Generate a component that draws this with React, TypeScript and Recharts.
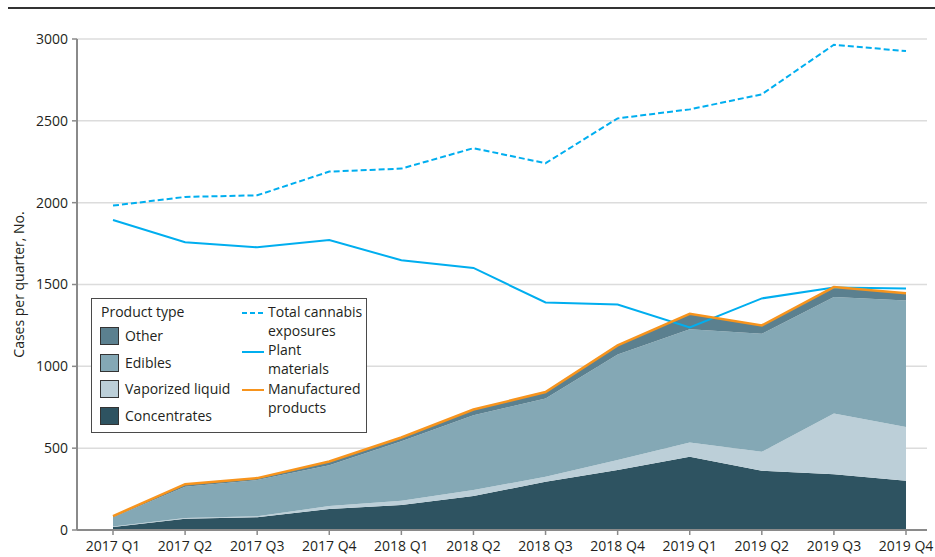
import * as React from 'react';
import {
  ComposedChart,
  Area,
  Line,
  XAxis,
  YAxis,
  CartesianGrid,
  Legend,
} from 'recharts';

const quarters = [
  '2017 Q1', '2017 Q2', '2017 Q3', '2017 Q4',
  '2018 Q1', '2018 Q2', '2018 Q3', '2018 Q4',
  '2019 Q1', '2019 Q2', '2019 Q3', '2019 Q4',
];

// stacked product types (bottom to top)
const concentrates = [18, 69, 78, 128, 152, 207, 295, 366, 447, 362, 341, 301];
const vaporizedLiquid = [4, 5, 6, 18, 27, 37, 30, 61, 88, 116, 371, 329];
const edibles = [56, 190, 221, 250, 364, 457, 478, 646, 691, 721, 711, 772];
const other = [7, 16, 12, 23, 22, 35, 40, 55, 95, 51, 61, 45];

// lines
const totalExposures = [1982, 2035, 2045, 2190, 2208, 2333, 2241, 2515, 2570, 2662, 2965, 2926];
const plantMaterials = [1894, 1758, 1727, 1772, 1648, 1601, 1390, 1378, 1238, 1415, 1482, 1476];
const manufactured = [85, 280, 317, 419, 565, 736, 843, 1128, 1321, 1250, 1484, 1447];

const yTicks = [0, 500, 1000, 1500, 2000, 2500, 3000];

const data = quarters.map((q, i) => ({
  quarter: q,
  concentrates: concentrates[i],
  vaporized: vaporizedLiquid[i],
  edibles: edibles[i],
  other: other[i],
  total: totalExposures[i],
  plant: plantMaterials[i],
  manufactured: manufactured[i],
}));

const FONT = '"Open Sans", sans-serif';
const TEXT = '#231f20';
const BLUE = '#00aeef';
const ORANGE = '#f7941d';

const areaItems = [
  { label: 'Other', color: '#5b808f' },
  { label: 'Edibles', color: '#84a8b5' },
  { label: 'Vaporized liquid', color: '#bccfd8' },
  { label: 'Concentrates', color: '#2e5361' },
];

const lineItems = [
  { lines: ['Total cannabis', 'exposures'], color: BLUE, dashed: true },
  { lines: ['Plant', 'materials'], color: BLUE, dashed: false },
  { lines: ['Manufactured', 'products'], color: ORANGE, dashed: false },
];

function LegendBox() {
  return (
    <div
      style={{
        position: 'relative',
        width: 276,
        height: 135,
        border: '1px solid #4a4a4a',
        background: '#fff',
        fontFamily: FONT,
        fontSize: 14,
        color: TEXT,
        boxSizing: 'border-box',
      }}
    >
      <div style={{ position: 'absolute', left: 9, top: 3, lineHeight: '20px' }}>Product type</div>
      {areaItems.map((it, i) => (
        <div key={it.label} style={{ position: 'absolute', left: 8, top: 28 + i * 26.5, display: 'flex', alignItems: 'center' }}>
          <span
            style={{
              display: 'inline-block',
              width: 19,
              height: 18,
              background: it.color,
              border: '1px solid #333',
              boxSizing: 'border-box',
            }}
          />
          <span style={{ marginLeft: 6, lineHeight: '18px' }}>{it.label}</span>
        </div>
      ))}
      {lineItems.map((it, i) => (
        <div key={it.lines[0]} style={{ position: 'absolute', left: 150, top: 4 + i * 38.5 }}>
          <svg width={22} height={4} style={{ position: 'absolute', left: 0, top: 8 }}>
            <line
              x1={0}
              y1={2}
              x2={22}
              y2={2}
              stroke={it.color}
              strokeWidth={2}
              strokeDasharray={it.dashed ? '5 3' : undefined}
            />
          </svg>
          {it.lines.map((ln, j) => (
            <div
              key={ln}
              style={{ position: 'absolute', left: 26, top: -1.5 + j * 19, lineHeight: '19px', whiteSpace: 'nowrap' }}
            >
              {ln}
            </div>
          ))}
        </div>
      ))}
    </div>
  );
}

const YLabel = ({ viewBox }: any) => {
  const cy = viewBox.y + viewBox.height / 2;
  return (
    <text
      x={18}
      y={cy}
      transform={`rotate(-90, 18, ${cy})`}
      textAnchor="middle"
      dominantBaseline="central"
      fontFamily={FONT}
      fontSize={14}
      fill={TEXT}
    >
      Cases per quarter, No.
    </text>
  );
};

export default function App() {
  return (
    <div style={{ position: 'absolute', left: 0, top: 0, width: 935, height: 557, background: '#fff' }}>
      <div style={{ position: 'absolute', left: 8, top: 7, width: 927, height: 2, background: '#333' }} />
      <ComposedChart
        width={935}
        height={557}
        data={data}
        margin={{ top: 39, right: 8, bottom: 0, left: 0 }}
      >
        <CartesianGrid vertical={false} stroke="#dcdcdc" strokeWidth={1.5} />
        <XAxis
          dataKey="quarter"
          height={27}
          padding={{ left: 36, right: 21 }}
          tickSize={5}
          tickMargin={6}
          interval={0}
          axisLine={{ stroke: '#8a8a8a', strokeWidth: 2 }}
          tickLine={{ stroke: '#8a8a8a', strokeWidth: 1.5 }}
          tick={{ fontFamily: FONT, fontSize: 14, fill: TEXT }}
        />
        <YAxis
          width={77}
          domain={[0, 3000]}
          ticks={yTicks}
          tickSize={5}
          tickMargin={4}
          axisLine={{ stroke: '#8a8a8a', strokeWidth: 2 }}
          tickLine={{ stroke: '#8a8a8a', strokeWidth: 1.5 }}
          tick={{ fontFamily: FONT, fontSize: 14, fill: TEXT }}
          label={<YLabel />}
        />
        <Legend
          layout="vertical"
          align="center"
          verticalAlign="middle"
          content={() => <LegendBox />}
          wrapperStyle={{ left: 91, top: 298, width: 276, height: 135 }}
        />
        <Area type="linear" dataKey="concentrates" stackId="p" stroke="none" fill="#2e5361" fillOpacity={1} isAnimationActive={false} />
        <Area type="linear" dataKey="vaporized" stackId="p" stroke="none" fill="#bccfd8" fillOpacity={1} isAnimationActive={false} />
        <Area type="linear" dataKey="edibles" stackId="p" stroke="none" fill="#84a8b5" fillOpacity={1} isAnimationActive={false} />
        <Area type="linear" dataKey="other" stackId="p" stroke="none" fill="#5b808f" fillOpacity={1} isAnimationActive={false} />
        <Line type="linear" dataKey="plant" stroke={BLUE} strokeWidth={2} dot={false} isAnimationActive={false} />
        <Line type="linear" dataKey="total" stroke={BLUE} strokeWidth={2} strokeDasharray="6 3" dot={false} isAnimationActive={false} />
        <Line type="linear" dataKey="manufactured" stroke={ORANGE} strokeWidth={2.5} dot={false} isAnimationActive={false} />
      </ComposedChart>
    </div>
  );
}
